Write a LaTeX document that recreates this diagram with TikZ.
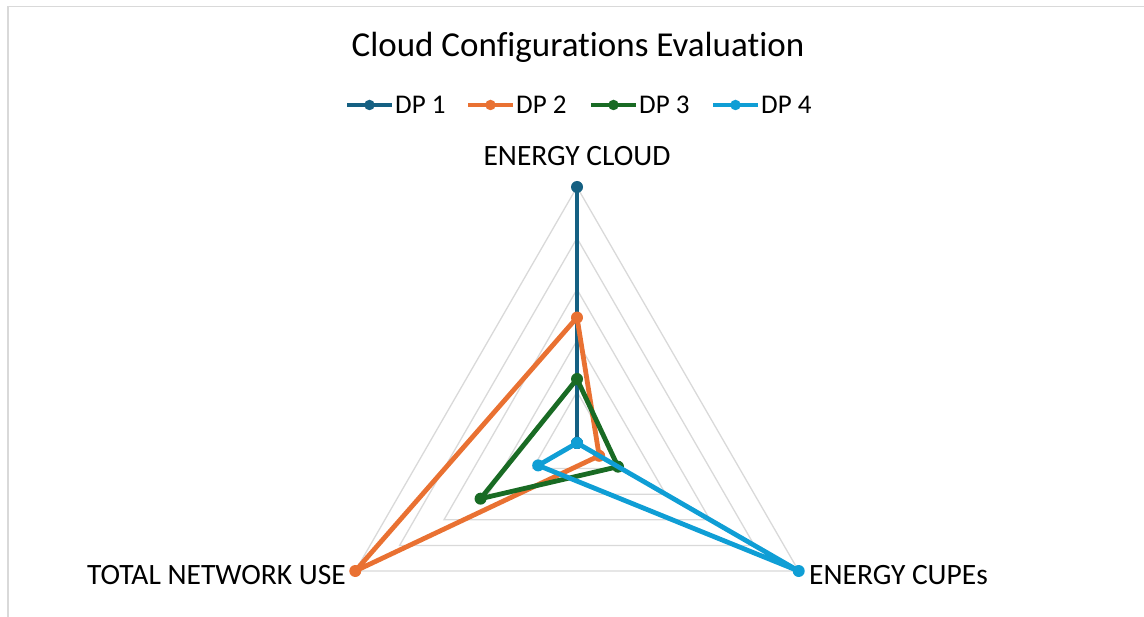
\documentclass[tikz,border=0pt]{standalone}
\usepackage{fontspec}
\setmainfont{Carlito}[Ligatures=CommonOff]
\definecolor{dpone}{HTML}{156082}
\definecolor{dptwo}{HTML}{E97132}
\definecolor{dpthree}{HTML}{196B24}
\definecolor{dpfour}{HTML}{0F9ED5}
\definecolor{gridgray}{HTML}{D9D9D9}
\begin{document}
\begin{tikzpicture}[x=1pt, y=1pt,
  gridline/.style={draw=gridgray, line width=1.3pt},
  series/.style={draw=#1, line width=4.8pt, line join=round},
  dot/.style={circle, fill=#1, inner sep=0pt, minimum size=12pt},
  legdot/.style={circle, fill=#1, inner sep=0pt, minimum size=10.5pt},
  axislabel/.style={font=\fontsize{29.5}{34}\selectfont, inner sep=0pt},
  legtext/.style={font=\fontsize{27}{32}\selectfont, anchor=base west, inner sep=0pt}]
  \useasboundingbox (0,0) rectangle (1144,-617);
  \draw[gridgray, line width=1.5pt] (1144,-6.5) -- (8,-6.5) -- (8,-617);
  \node[font=\fontsize{35}{40}\selectfont, anchor=base, inner sep=0pt] (title) at (578,-57) {Cloud Configurations Evaluation};
  % legend
  \foreach \i/\col/\x/\lab in {1/dpone/347/DP 1, 2/dptwo/468/DP 2, 3/dpthree/591/DP 3, 4/dpfour/713/DP 4} {
    \coordinate (leg\i a) at (\x,-105);
    \coordinate (leg\i b) at (\x+45,-105);
    \draw[\col, line width=4.5pt] (leg\i a) -- (leg\i b);
    \node[legdot=\col] (legdot\i) at (\x+22.5,-105) {};
    \node[legtext] (legtext\i) at (\x+48,-114) {\lab};
  }
  \begin{scope}[shift={(577,-443)}]
    \foreach \r in {1,...,5}
      \draw[gridline] (90:{\r*51.2}) -- (-30:{\r*51.2}) -- (210:{\r*51.2}) -- cycle;
    \node[axislabel, anchor=base] (cloud) at (0,277) {ENERGY CLOUD};
    \node[axislabel, anchor=base east] (network) at (-231,-141) {TOTAL NETWORK USE};
    \node[axislabel, anchor=base west] (cupes) at (232,-141) {ENERGY CUPEs};
    % data series: top / right / left
    \foreach \s/\col/\a/\b/\c in {1/dpone/1/0/0, 2/dptwo/0.49/0.1/1,
        3/dpthree/0.25/0.185/0.435, 4/dpfour/0/1/0.175} {
      \coordinate (dp\s t) at (90:{\a*256});
      \coordinate (dp\s r) at (-30:{\b*256});
      \coordinate (dp\s l) at (210:{\c*256});
      \draw[series=\col] (dp\s t) -- (dp\s r) -- (dp\s l) -- cycle;
      \foreach \k in {t,r,l}
        \node[dot=\col] (dot\s\k) at (dp\s\k) {};
    }
  \end{scope}
\end{tikzpicture}
\end{document}
